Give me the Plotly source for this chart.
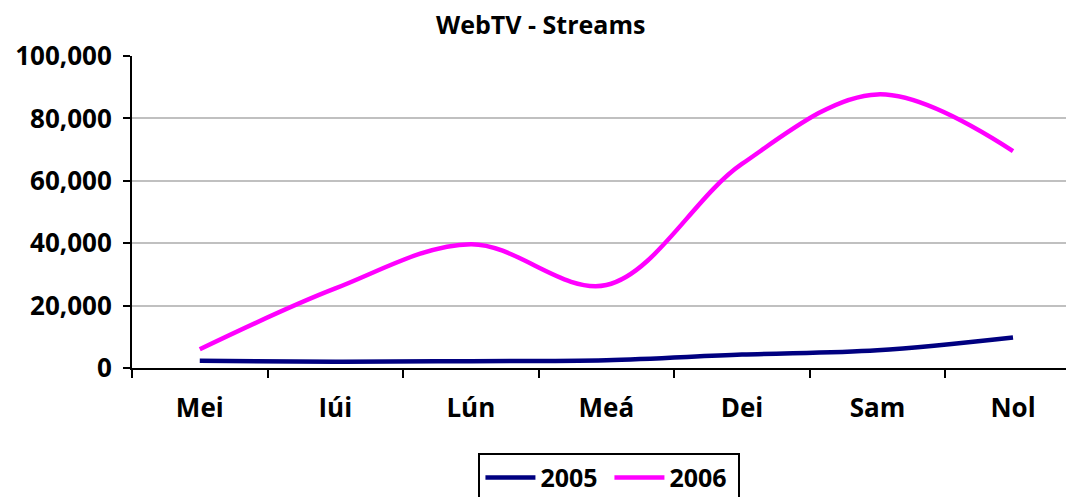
import plotly.graph_objects as go

categories = ["Mei", "Iúi", "Lún", "Meá", "Dei", "Sam", "Nol"]
series_2005 = [2300, 2000, 2200, 2500, 4300, 5700, 9800]
series_2006 = [6000, 25500, 39700, 26600, 65400, 87700, 69500]
y_ticks = [0, 20000, 40000, 60000, 80000, 100000]

FONT = "Open Sans"

fig = go.Figure()
fig.add_trace(go.Scatter(x=categories, y=series_2005, name="2005", mode="lines",
                         line=dict(color="#000080", width=4.5, shape="spline", smoothing=1)))
fig.add_trace(go.Scatter(x=categories, y=series_2006, name="2006", mode="lines",
                         line=dict(color="#FF00FF", width=4.5, shape="spline", smoothing=1)))

fig.update_layout(
    width=1074, height=497,
    margin=dict(l=124, r=8, t=48, b=137, autoexpand=False),
    paper_bgcolor="white", plot_bgcolor="white",
    font=dict(family=FONT, color="black", weight="bold"),
    title=dict(text="WebTV - Streams", xref="container", x=0.496, xanchor="center",
               yref="container", y=0.965, yanchor="middle",
               font=dict(size=25, family=FONT, color="black", weight="bold")),
    showlegend=True,
    legend=dict(orientation="h", xref="container", x=0.56, xanchor="center",
                yref="container", y=0.105, yanchor="top",
                bordercolor="black", borderwidth=2,
                font=dict(size=25, family=FONT, color="black", weight="bold"),
                itemwidth=50, entrywidth=64, tracegroupgap=0),
)
fig.update_xaxes(
    type="category", range=[-0.5, 6.45],
    showline=True, linecolor="black", linewidth=2,
    ticks="outside", tickson="boundaries", ticklen=8, tickwidth=2, tickcolor="black",
    showgrid=False, automargin=False,
    tickfont=dict(size=26, family=FONT, color="black", weight="bold"),
    ticklabelstandoff=16,
)
fig.update_yaxes(
    range=[0, 100000], tickvals=y_ticks, tickformat=",d",
    showline=True, linecolor="black", linewidth=2,
    ticks="outside", ticklen=7, tickwidth=2, tickcolor="black",
    showgrid=True, gridcolor="#C0C0C0", gridwidth=2,
    zeroline=False, automargin=False,
    tickfont=dict(size=26, family=FONT, color="black", weight="bold"),
    ticklabelstandoff=6,
)

fig.write_html("out.html")
